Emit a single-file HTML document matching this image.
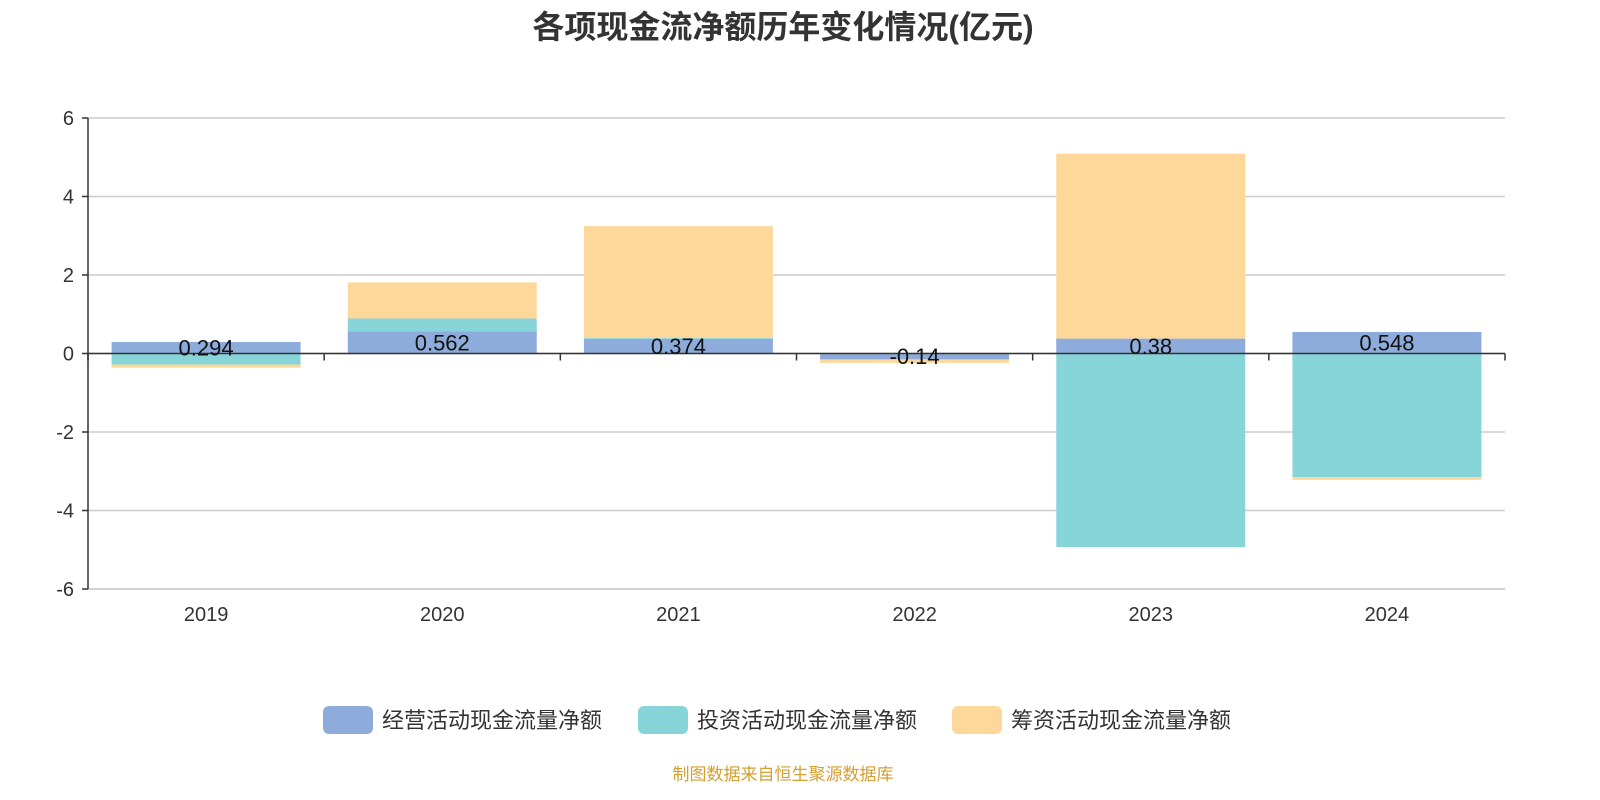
<!DOCTYPE html>
<html><head><meta charset="utf-8"><style>
html,body{margin:0;padding:0;background:#fff;width:1600px;height:800px;overflow:hidden;}
svg{display:block;}
svg text{font-family:"Liberation Sans","Noto Sans CJK SC",sans-serif;}
</style></head><body>
<svg width="1600" height="800" xmlns="http://www.w3.org/2000/svg">
<text x="783" y="38" text-anchor="middle" font-size="32" font-weight="bold" fill="#333">各项现金流净额历年变化情况(亿元)</text>
<g id="grid"></g><g id="bars"></g><g id="axes"></g><g id="labels"></g>
<g>
<rect x="323" y="706" width="50" height="28" rx="6" fill="#8eacdb"/>
<text x="382" y="728" font-size="22" fill="#333">经营活动现金流量净额</text>
<rect x="638" y="706" width="50" height="28" rx="6" fill="#88d5d9"/>
<text x="697" y="728" font-size="22" fill="#333">投资活动现金流量净额</text>
<rect x="952" y="706" width="50" height="28" rx="6" fill="#fed89a"/>
<text x="1011" y="728" font-size="22" fill="#333">筹资活动现金流量净额</text>
</g>
<text x="783" y="780" text-anchor="middle" font-size="17" fill="#d4a030">制图数据来自恒生聚源数据库</text>
</svg>
<script>
const categories=["2019","2020","2021","2022","2023","2024"];
const operating=[0.294,0.562,0.374,-0.14,0.38,0.548];
const investing=[-0.28,0.33,0.02,-0.02,-4.93,-3.15];
const financing=[-0.08,0.92,2.85,-0.08,4.71,-0.07];
const yTicks=[6,4,2,0,-2,-4,-6];
const NS="http://www.w3.org/2000/svg";
const x0=88,x1=1505,yTop=118,yBot=589,yMax=6,yMin=-6;
const band=(x1-x0)/categories.length,bw=189;
function y(v){return yTop+(yMax-v)/(yMax-yMin)*(yBot-yTop);}
function mk(t,a,p){const e=document.createElementNS(NS,t);for(const k in a)e.setAttribute(k,a[k]);p.appendChild(e);return e;}
const grid=document.getElementById('grid'),bars=document.getElementById('bars'),axes=document.getElementById('axes'),labels=document.getElementById('labels');
yTicks.forEach(t=>{
 const l=mk('line',{x1:x0,x2:x1,y1:y(t),y2:y(t),stroke:'#ccc','stroke-width':1.5},grid);
 
 
 const tk=mk('line',{x1:x0-6,x2:x0,y1:y(t),y2:y(t),stroke:'#333','stroke-width':1.5},axes);
 
 
 const tx=mk('text',{x:x0-14,y:y(t)+7,'text-anchor':'end','font-size':20,fill:'#333'},axes);
 tx.textContent=t;
 
 
});
const ya=mk('line',{x1:x0,x2:x0,y1:yTop,y2:yBot,stroke:'#333','stroke-width':1.5},axes);


const xa=mk('line',{x1:x0,x2:x1,y1:y(0),y2:y(0),stroke:'#333','stroke-width':1.5},axes);


for(let i=0;i<=categories.length;i++){
 const tk=mk('line',{x1:x0+i*band,x2:x0+i*band,y1:y(0),y2:y(0)+7,stroke:'#333','stroke-width':1.5},axes);
 
 
}
const series=[[operating,'#8eacdb','operating'],[investing,'#88d5d9','investing'],[financing,'#fed89a','financing']];
categories.forEach((c,i)=>{
 const cx=x0+band*(i+0.5);
 let pos=0,neg=0;
 series.forEach(([arr,col,nm])=>{
  const v=arr[i];let a,b;
  if(v>=0){a=pos;b=pos+v;pos=b;}else{a=neg;b=neg+v;neg=b;}
  const r=mk('rect',{x:cx-bw/2,y:Math.min(y(a),y(b)),width:bw,height:Math.abs(y(a)-y(b)),fill:col},bars);
  
  
 });
 const lt=mk('text',{x:cx,y:y(operating[i]/2)+8,'text-anchor':'middle','font-size':22,fill:'#111'},labels);
 lt.textContent=operating[i];
 
 
 const xt=mk('text',{x:cx,y:621,'text-anchor':'middle','font-size':20,fill:'#333'},axes);
 xt.textContent=c;
 
 
});
const bl=mk('line',{x1:x0,x2:x1,y1:yBot,y2:yBot,stroke:'#ccc','stroke-width':1.5},grid);


</script>
</body></html>
